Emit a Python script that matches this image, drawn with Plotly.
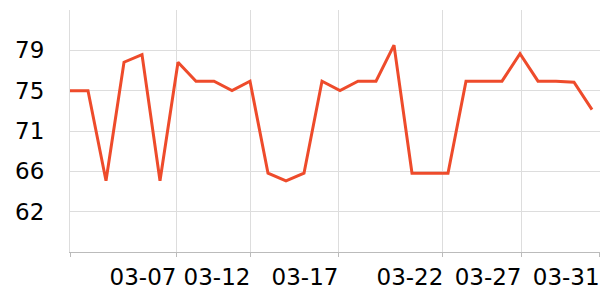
import plotly.graph_objects as go

# Data
point_index = list(range(30))
values = [75.0, 75.0, 65.5, 78.0, 78.8, 65.5, 78.0, 76.0, 76.0, 75.0,
          76.0, 66.3, 65.5, 66.3, 76.0, 75.0, 76.0, 76.0, 79.8, 66.3,
          66.3, 66.3, 76.0, 76.0, 76.0, 78.9, 76.0, 76.0, 75.9, 73.0]

x_tick_positions = [0, 5.89, 10.0, 14.89, 20.72, 25.06, 29.4]
x_tick_labels = ["", "03-07", "03-12", "03-17", "03-22", "03-27", "03-31"]

y_tick_values = [62.25, 66.5, 70.75, 75.0, 79.25]
y_tick_labels = ["62", "66", "71", "75", "79"]

fig = go.Figure()
fig.add_trace(go.Scatter(
    x=point_index, y=values, mode="lines",
    line=dict(color="#EE4B2B", width=3),
    hoverinfo="skip",
))

fig.update_layout(
    width=600, height=300,
    margin=dict(l=70, r=0, t=10, b=48),
    paper_bgcolor="white", plot_bgcolor="white",
    showlegend=False,
    font=dict(family="DejaVu Sans", size=23, color="black"),
)
fig.update_xaxes(
    range=[0, 530 / 18], tickmode="array",
    tickvals=x_tick_positions, ticktext=x_tick_labels,
    showgrid=True, gridcolor="#dddddd", gridwidth=1,
    showline=True, linecolor="#bbbbbb", linewidth=1,
    ticks="outside", ticklen=4, tickcolor="#bbbbbb",
    ticklabelshift=-33, zeroline=False,
)
fig.update_yaxes(
    range=[58, 83.5], tickmode="array",
    tickvals=y_tick_values, ticktext=y_tick_labels,
    showgrid=True, gridcolor="#dddddd", gridwidth=1,
    showline=True, linecolor="#dddddd", linewidth=1,
    ticks="", ticklabelstandoff=20, zeroline=False,
)

fig.write_html("out.html")
